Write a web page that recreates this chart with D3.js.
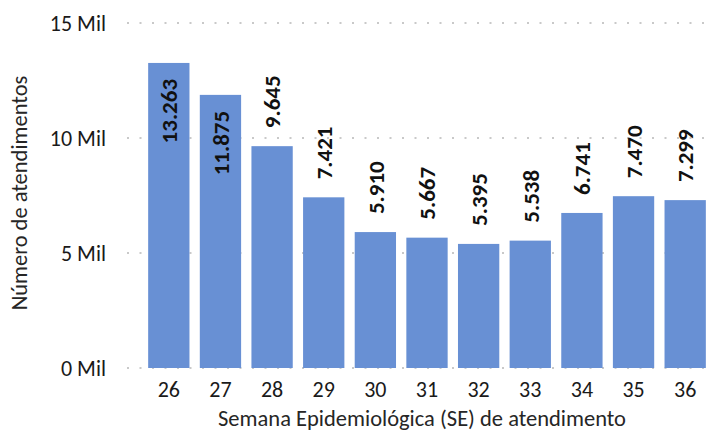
<!DOCTYPE html>
<html>
<head>
<meta charset="utf-8">
<script src="https://cdn.jsdelivr.net/npm/d3@7"></script>
<style>
  body { margin: 0; background: #fff; }
  text { font-family: Carlito, Calibri, Lato, sans-serif; }
</style>
</head>
<body>
<svg id="chart" width="714" height="431"></svg>
<script>
var semanas = ["26","27","28","29","30","31","32","33","34","35","36"]
var atendimentos = [13263, 11875, 9645, 7421, 5910, 5667, 5395, 5538, 6741, 7470, 7299]
var yTicks = [0, 5000, 10000, 15000]

var svg = d3.select("#chart")
var fmt = d3.formatLocale({decimal: ",", thousands: ".", grouping: [3], currency: ["", ""]}).format(",d")

var xScale = d3.scaleBand()
  .domain(semanas)
  .range([143, 711])
  .paddingInner(0.2)
  .paddingOuter(0.1)
var yScale = d3.scaleLinear()
  .domain([0, 15000])
  .range([368, 23])

// gridlines
svg.selectAll("line.grid")
  .data(yTicks)
  .enter().append("line")
  .attr("class", "grid")
  .attr("x1", 127)
  .attr("x2", 714)
  .attr("y1", function(d){return yScale(d)})
  .attr("y2", function(d){return yScale(d)})
  .attr("stroke", "#c9c9c9")
  .attr("stroke-width", 2)
  .attr("stroke-dasharray", "2,10.5")

// y tick labels
svg.selectAll("text.ytick")
  .data(yTicks)
  .enter().append("text")
  .attr("class", "ytick")
  .attr("x", 106)
  .attr("y", function(d){return yScale(d)})
  .attr("dy", "0.36em")
  .attr("text-anchor", "end")
  .attr("font-size", 22)
  .attr("fill", "#1a1a1a")
  .text(function(d){return (d/1000) + " Mil"})

// bars
svg.selectAll("rect.bar")
  .data(atendimentos)
  .enter().append("rect")
  .attr("class", "bar")
  .attr("x", function(d,i){return xScale(semanas[i])})
  .attr("width", xScale.bandwidth())
  .attr("y", function(d){return yScale(d)})
  .attr("height", function(d){return yScale(0) - yScale(d)})
  .attr("fill", "#6890d4")

// value labels (the two tallest sit inside the bar top)
svg.selectAll("text.val")
  .data(atendimentos)
  .enter().append("text")
  .attr("class", "val")
  .attr("transform", function(d,i){
    var cx = xScale(semanas[i]) + xScale.bandwidth()/2
    var cy = d > 11000 ? yScale(d) + 16 : yScale(d) - 18
    return "translate(" + cx + "," + cy + ") rotate(-90)"
  })
  .attr("dy", "0.36em")
  .attr("text-anchor", function(d){return d > 11000 ? "end" : "start"})
  .attr("font-size", 23)
  .attr("font-weight", "bold")
  .attr("fill", "#111")
  .text(function(d){return fmt(d)})

// x tick labels
svg.selectAll("text.xtick")
  .data(semanas)
  .enter().append("text")
  .attr("class", "xtick")
  .attr("x", function(d){return xScale(d) + xScale.bandwidth()/2})
  .attr("y", 397)
  .attr("text-anchor", "middle")
  .attr("font-size", 22)
  .attr("fill", "#1a1a1a")
  .text(function(d){return d})

// axis titles
svg.append("text")
  .attr("x", 422)
  .attr("y", 426)
  .attr("text-anchor", "middle")
  .attr("font-size", 22.5)
  .attr("fill", "#262626")
  .text("Semana Epidemiológica (SE) de atendimento")

svg.append("text")
  .attr("transform", "translate(27,193) rotate(-90)")
  .attr("text-anchor", "middle")
  .attr("font-size", 22.5)
  .attr("fill", "#262626")
  .text("Número de atendimentos")
</script>
</body>
</html>
